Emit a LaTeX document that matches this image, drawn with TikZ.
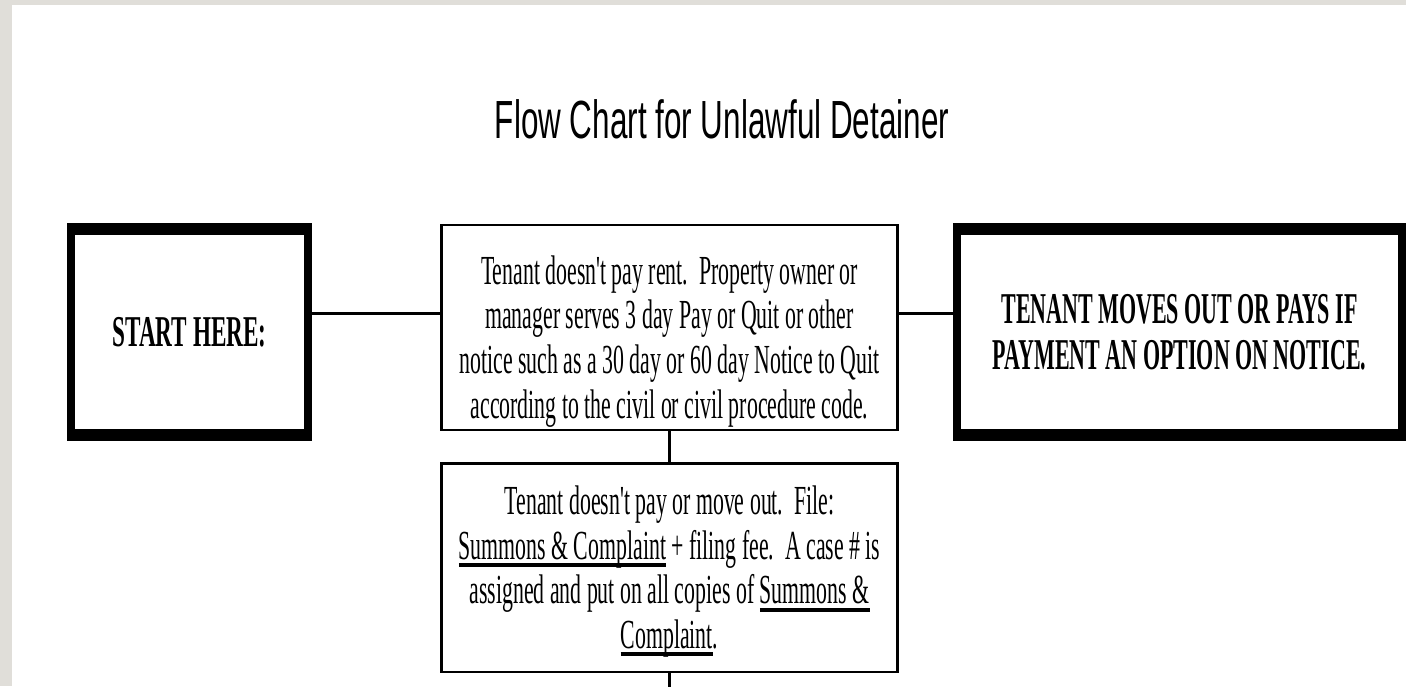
\documentclass[tikz,border=0pt]{standalone}
\usepackage{fontspec}
\usetikzlibrary{positioning}
\newfontfamily\titlefont[FakeStretch=0.585]{Liberation Sans}
\newfontfamily\bodyfont[FakeStretch=0.528]{Liberation Serif}
\newfontfamily\capsfont[FakeStretch=0.50]{Liberation Serif}
\newfontfamily\startfont[FakeStretch=0.527]{Liberation Serif}
\definecolor{deskgray}{HTML}{E0DED9}
\newsavebox{\ulbox}
\newcommand{\ulined}[1]{\sbox{\ulbox}{#1}\rlap{\rule[-6pt]{\wd\ulbox}{3pt}}\usebox{\ulbox}}

\begin{document}
\begin{tikzpicture}[x=0.75pt, y=-0.75pt,
    bigbox/.style = {draw, line width=6pt, inner sep=0pt, minimum height=157.5pt, align=center,
        font=\capsfont\bfseries\fontsize{33pt}{34.5pt}\selectfont,
        path picture={
            \fill (path picture bounding box.north west) rectangle ([yshift=-6pt]path picture bounding box.north east);
            \fill ([yshift=6pt]path picture bounding box.south west) rectangle (path picture bounding box.south east);}},
    notebox/.style = {draw, line width=2pt, inner sep=0pt, minimum width=342pt, align=center,
        font=\bodyfont\fontsize{31pt}{33.5pt}\selectfont},
    link/.style = {line width=2.25pt}]
    % page on the desk
    \fill[deskgray] (0,0) rectangle (1406,686);
    \fill[white] (12,5) rectangle (1406,686);
    \useasboundingbox (0,0) rectangle (1406,686);

    \node[anchor=base, font=\titlefont\fontsize{40.3pt}{44pt}\selectfont] (title) at (722,138) {Flow Chart for Unlawful Detainer};

    \node[bigbox, minimum width=177.75pt, font=\startfont\bfseries\fontsize{33pt}{34.5pt}\selectfont] (start) at (189.5,332) {START HERE:};
    \node[notebox, minimum height=153.75pt, text height=142.5pt] (notice) at (669.5,327.5)
        {Tenant doesn't pay rent.\ \ Property owner or\\
         manager serves 3 day Pay or Quit or other\\
         notice such as a 30 day or 60 day Notice to Quit\\
         according to the civil or civil procedure code.};
    \node[bigbox, minimum width=333.75pt] (outcome) at (1179.5,332)
        {TENANT MOVES OUT OR PAYS IF\\PAYMENT AN OPTION ON NOTICE.};
    \node[notebox, minimum height=156.5pt, text height=127.7pt, below=23pt of notice] (filing)
        {Tenant doesn't pay or move out.\ \ File:\\
         \ulined{Summons \& Complaint} + filing fee.\ \ A case \# is\\
         assigned and put on all copies of \ulined{Summons \&}\\
         \ulined{Complaint}.};

    \coordinate (row) at (0,313);
    \coordinate (pageend) at (669.5,690);
    \draw[link] (start.east |- row) -- (notice.west |- row);
    \draw[link] (notice.east |- row) -- (outcome.west |- row);
    \draw[link, line width=1.6pt] (notice) -- (filing);
    \draw[link, line width=1.6pt] (filing) -- (pageend);
\end{tikzpicture}
\end{document}
